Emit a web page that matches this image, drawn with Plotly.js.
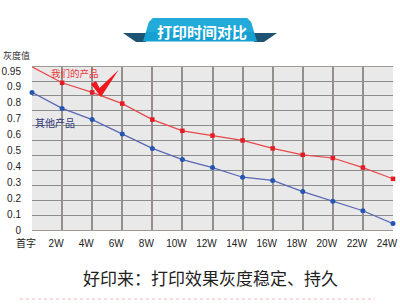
<!DOCTYPE html>
<html><head><meta charset="utf-8">
<script src="https://cdn.plot.ly/plotly-3.0.1.min.js"></script>
<style>html,body{margin:0;padding:0;background:#fff;}#chart{width:400px;height:308px;}</style>
</head><body><div id="chart"></div>
<script>
// ---- data ----
var categories = ['首字','2W','4W','6W','8W','10W','12W','14W','16W','18W','20W','22W','24W'];
var ourProduct = [1.02, 0.92, 0.86, 0.79, 0.69, 0.62, 0.59, 0.56, 0.51, 0.47, 0.45, 0.39, 0.32];
var otherProduct = [0.86, 0.76, 0.69, 0.60, 0.51, 0.44, 0.39, 0.33, 0.31, 0.24, 0.18, 0.12, 0.04];
var yTickVals = [0, 0.1, 0.2, 0.3, 0.4, 0.5, 0.6, 0.7, 0.8, 0.9];
var yTickText = ['0','0.1','0.2','0.3','0.4','0.5','0.6','0.7','0.8','0.9'];
var yTopTickVal = [0.95];
var yTopTickText = ['0.95'];
var seriesNames = ['我们的产品','其他产品'];
var titleText = '打印时间对比';
var yTitle = '灰度值';
var footerText = '好印来：打印效果灰度稳定、持久';

// ---- layout helpers (pixel -> paper) ----
var W = 400, H = 308, ML = 32, MR = 7, MT = 67, MB = 78;
var PW = W - ML - MR, PH = H - MT - MB;
function px(x){ return (x - ML) / PW; }
function py(y){ return (H - MB - y) / PH; }
function path(pts){ return 'M' + pts.map(function(p){ return px(p[0]).toFixed(4)+','+py(p[1]).toFixed(4); }).join('L') + 'Z'; }

var font = 'Liberation Sans, Arial, Noto Sans CJK SC, sans-serif';
var cjk = 'Noto Sans CJK SC, sans-serif';
var yRange = [0, PH/160];

var traces = [
  {x: categories, y: ourProduct, name: seriesNames[0], type: 'scatter', mode: 'lines+markers',
   line: {color: '#e8474a', width: 1.2}, marker: {color: '#e51b23', size: 4.5, symbol: 'square'}, cliponaxis: false},
  {x: categories, y: otherProduct, name: seriesNames[1], type: 'scatter', mode: 'lines+markers', yaxis: 'y2',
   line: {color: '#5866b4', width: 1.2}, marker: {color: '#2456b4', size: 5}, cliponaxis: false}
];

var layout = {
  width: W, height: H,
  margin: {l: ML, r: MR, t: MT, b: MB, pad: 0},
  paper_bgcolor: '#ffffff', plot_bgcolor: '#e9e9e9',
  showlegend: false,
  font: {family: font, size: 10, color: '#222'},
  xaxis: {type: 'category', range: [0, 12], showgrid: true, gridcolor: '#948f8c', gridwidth: 2,
    zeroline: false, showline: true, mirror: true, linecolor: '#a09a96', linewidth: 1,
    ticks: '', ticklabelstandoff: 4, ticklabelshift: -6, tickfont: {family: font, size: 10, color: '#222'}, fixedrange: true},
  yaxis: {range: yRange, tickmode: 'array', tickvals: yTickVals, ticktext: yTickText,
    showgrid: false, zeroline: false, showline: false, ticks: '', ticklabelstandoff: 10,
    tickfont: {family: font, size: 10, color: '#222'}, fixedrange: true,
    minor: {tickmode: 'linear', tick0: 0, dtick: 0.0931, showgrid: true, gridcolor: '#8c8c8c', gridwidth: 1, ticks: ''}},
  yaxis2: {overlaying: 'y', anchor: 'x', side: 'left', range: yRange, tickmode: 'array', tickvals: yTopTickVal, ticktext: yTopTickText,
    showgrid: false, zeroline: false, showline: false, ticks: '', ticklabelstandoff: 10, ticklabelshift: -7,
    tickfont: {family: font, size: 10, color: '#222'}, fixedrange: true},
  shapes: [
    // banner tails
    {type: 'path', xref: 'paper', yref: 'paper', path: path([[123,33],[146,33],[146,42],[136,42]]), fillcolor: '#1d5473', line: {width: 0}, layer: 'above'},
    {type: 'path', xref: 'paper', yref: 'paper', path: path([[277,33],[254,33],[254,42],[264,42]]), fillcolor: '#1d5473', line: {width: 0}, layer: 'above'},
    // banner body
    {type: 'path', xref: 'paper', yref: 'paper', path: path([[143,41.5],[149,22],[153,18],[247,18],[251,22],[257,41.5]]), fillcolor: '#16a0d2', line: {width: 0}, layer: 'above'},
    {type: 'path', xref: 'paper', yref: 'paper', path: path([[146,32],[149,22],[153,18],[247,18],[251,22],[254,32]]), fillcolor: '#2bb0de', line: {width: 0}, layer: 'above', opacity: 0.6},
    // check mark
    {type: 'path', xref: 'paper', yref: 'paper', path: path([[91,84],[96,81],[99.5,88],[118.5,70],[101,97]]), fillcolor: '#f0161e', line: {width: 0}, layer: 'above'},
    // footer dashed line
    {type: 'line', xref: 'paper', yref: 'paper', x0: px(20), x1: px(375), y0: py(299), y1: py(299), line: {color: '#f6b8bc', width: 1, dash: 'dot'}}
  ],
  annotations: [
    {text: '<b>' + titleText + '</b>', xref: 'paper', yref: 'paper', x: px(202), y: py(31.5), showarrow: false,
     xanchor: 'center', yanchor: 'middle', font: {family: cjk, size: 15, color: '#ffffff'}},
    {text: yTitle, xref: 'paper', yref: 'paper', x: px(1), y: py(56), showarrow: false,
     xanchor: 'left', yanchor: 'middle', font: {family: cjk, size: 9, color: '#333'}},
    {text: seriesNames[0], xref: 'paper', yref: 'paper', x: px(75), y: py(72.5), showarrow: false,
     xanchor: 'center', yanchor: 'middle', font: {family: cjk, size: 9.5, color: '#e8383d'}},
    {text: seriesNames[1], xref: 'paper', yref: 'paper', x: px(55), y: py(122.5), showarrow: false,
     xanchor: 'center', yanchor: 'middle', font: {family: cjk, size: 10, color: '#2e3a78'}},
    {text: footerText, xref: 'paper', yref: 'paper', x: px(210.5), y: py(277), showarrow: false,
     xanchor: 'center', yanchor: 'middle', font: {family: cjk, size: 17, color: '#222'}}
  ]
};

Plotly.newPlot('chart', traces, layout, {displayModeBar: false, staticPlot: true});
</script></body></html>
